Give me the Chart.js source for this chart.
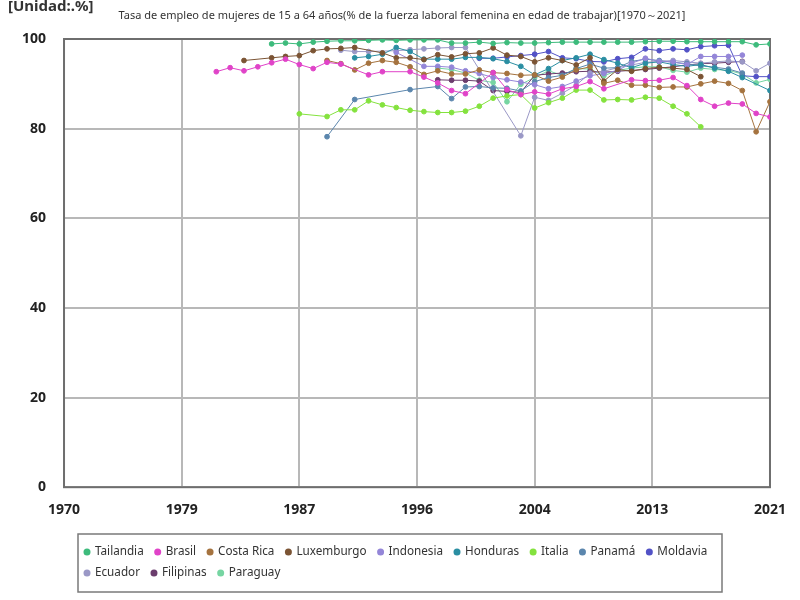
<!DOCTYPE html>
<html>
<head>
<meta charset="utf-8">
<script src="https://cdn.jsdelivr.net/npm/chart.js@4.4.1/dist/chart.umd.min.js"></script>
<style>
html,body{margin:0;padding:0;background:#fff;}
#wrap{width:800px;height:600px;position:relative;}
</style>
</head>
<body>
<div id="wrap"><canvas id="c" width="800" height="600"></canvas></div>
<script>
// ---- Data ----
const years = [1981,1982,1983,1984,1985,1986,1987,1988,1989,1990,
  1991,1992,1993,1994,1995,1996,1997,1998,1999,2000,
  2001,2002,2003,2004,2005,2006,2007,2008,2009,2010,
  2011,2012,2013,2014,2015,2016,2017,2018,2019,2020,2021];

const seriesNames = ["Tailandia","Brasil","Costa Rica","Luxemburgo","Indonesia","Honduras","Italia","Panamá","Moldavia","Ecuador","Filipinas","Paraguay"];

const tailandia = [null,null,null,null,98.9,99.1,98.9,99.3,99.5,99.6,
  99.6,99.7,99.8,99.7,99.8,99.8,99.8,99.1,99.1,99.3,
  99.0,99.2,99.1,99.1,99.2,99.3,99.3,99.3,99.3,99.3,
  99.3,99.4,99.5,99.5,99.4,99.4,99.4,99.4,99.4,98.7,98.9];
const brasil = [92.7,93.6,92.9,93.8,94.7,95.5,94.3,93.4,94.8,94.4,
  null,92.0,92.7,null,92.7,91.5,90.2,88.5,87.8,null,
  92.5,88.7,87.6,88.2,87.7,88.9,89.4,90.5,88.9,null,
  90.9,90.7,90.8,91.4,89.6,86.5,85.0,85.7,85.5,83.4,82.6];
const costaRica = [null,null,null,null,null,null,null,null,95.2,94.5,
  93.1,94.6,95.2,94.8,93.8,92.1,92.9,92.2,92.2,93.1,
  92.5,92.3,91.9,92.0,90.6,91.5,93.1,93.8,90.1,90.8,
  89.7,89.7,89.2,89.3,89.3,90.0,90.6,90.1,88.5,79.3,86.0];
const luxemburgo = [null,null,95.2,null,95.8,96.1,96.3,97.4,97.8,97.9,
  98.1,null,96.9,95.8,95.8,95.4,96.5,96.0,96.7,96.9,
  98.0,96.4,96.1,94.9,95.8,95.2,94.2,95.8,90.6,93.2,
  92.8,93.4,93.7,93.5,93.2,91.6,null,null,null,null,null];
const indonesia = [null,null,null,null,null,null,null,null,null,null,
  null,null,null,97.0,null,93.9,93.9,93.7,92.9,92.3,
  91.4,90.9,90.4,89.8,88.9,89.4,90.6,91.8,92.3,93.0,
  94.6,95.7,95.0,94.9,94.3,96.1,96.1,96.1,96.4,null,null];
const honduras = [null,null,null,null,null,null,null,null,null,null,
  95.8,96.1,96.6,98.1,97.2,95.5,95.5,95.5,95.9,95.9,
  95.6,95.0,93.9,92.0,93.4,95.2,95.8,96.6,95.4,94.6,
  93.6,94.6,94.9,94.3,93.9,94.3,93.5,92.8,91.4,null,88.5];
const italia = [null,null,null,null,null,null,83.3,null,82.7,84.2,
  84.2,86.2,85.3,84.7,84.1,83.8,83.6,83.6,83.9,85.0,
  86.8,87.3,87.6,84.6,85.8,86.8,88.6,88.6,86.4,86.5,
  86.4,87.0,86.8,85.0,83.3,80.4,null,null,null,null,null];
const panama = [null,null,null,null,null,null,null,null,78.2,null,
  86.5,null,null,null,88.7,null,89.4,86.7,89.3,89.4,
  89.1,89.0,88.4,90.5,91.4,91.9,93.4,94.4,93.5,93.6,
  95.0,95.5,95.2,94.8,94.5,94.0,93.7,93.3,92.4,null,null];
const moldavia = [null,null,null,null,null,null,null,null,null,null,
  null,null,null,null,null,null,null,null,null,95.7,
  95.7,96.0,96.3,96.6,97.2,95.8,95.6,95.0,94.9,95.6,
  95.9,97.8,97.4,97.8,97.6,98.3,98.5,98.6,91.8,91.6,91.6];
const ecuador = [null,null,null,null,null,null,null,null,null,97.5,
  97.2,97.2,null,97.4,97.6,97.8,98.0,98.1,98.1,null,
  null,null,78.4,87.0,86.3,87.9,89.7,92.4,92.8,93.6,
  94.2,94.8,95.0,95.2,94.9,94.6,94.9,95.1,94.9,92.9,94.6];
const filipinas = [null,null,null,null,null,null,null,null,null,null,
  null,null,null,null,null,null,90.9,90.8,90.8,90.6,
  88.5,88.3,88.1,91.9,92.2,92.4,92.7,92.8,92.6,92.8,
  93.0,93.2,93.5,93.8,94.2,94.5,94.6,94.8,95.0,null,null];
const paraguay = [null,null,null,null,null,null,null,null,null,null,
  null,null,null,null,null,null,93.5,93.2,92.4,90.8,
  90.3,86.0,89.9,91.4,92.9,91.9,93.4,93.3,91.8,93.0,
  93.5,93.8,93.8,93.0,92.6,93.5,93.2,93.0,92.2,90.2,91.0];

const seriesValues = [tailandia,brasil,costaRica,luxemburgo,indonesia,honduras,italia,panama,moldavia,ecuador,filipinas,paraguay];
const seriesColors = ["#3dbb7c","#e043c8","#a5733f","#7b5434","#9486d8","#2a8ea2","#84e23e","#5b86ad","#5252c6","#9a98c6","#6b3d6d","#76d5a2"];

const xMin = 1970, xMax = 2021, xStep = 8.5;
const yMin = 0, yMax = 100, yStep = 20;
const unitLabel = "[Unidad:.%]";
const titleText = "Tasa de empleo de mujeres de 15 a 64 años(% de la fuerza laboral femenina en edad de trabajar)[1970～2021]";

// ---- Build datasets ----
const datasets = seriesNames.map((name, i) => {
  const pts = [];
  years.forEach((yr, k) => {
    const v = seriesValues[i][k];
    if (v !== null && v !== undefined) pts.push({x: yr, y: v});
  });
  return {
    label: name,
    data: pts,
    borderColor: seriesColors[i],
    backgroundColor: seriesColors[i],
    pointBackgroundColor: seriesColors[i],
    pointBorderColor: seriesColors[i],
    borderWidth: 1,
    pointRadius: 2.4,
    pointHoverRadius: 3,
    tension: 0,
    fill: false
  };
});

const FONT = '"Noto Sans", "DejaVu Sans", sans-serif';

const framePlugin = {
  id: 'frame',
  beforeDatasetsDraw(chart) {
    const {ctx, chartArea: a} = chart;
    ctx.save();
    ctx.strokeStyle = '#6e6e6e';
    ctx.lineWidth = 2;
    ctx.strokeRect(a.left, a.top, a.right - a.left, a.bottom - a.top);
    ctx.restore();
  },
  afterDraw(chart) {
    const ctx = chart.ctx;
    ctx.save();
    // unit label
    ctx.font = 'bold 15px ' + FONT;
    ctx.fillStyle = '#333';
    ctx.textBaseline = 'top';
    ctx.textAlign = 'left';
    ctx.fillText(unitLabel, 8, -1);
    // title
    ctx.font = '11px ' + FONT;
    ctx.textAlign = 'center';
    ctx.textBaseline = 'middle';
    ctx.fillText(titleText, 402, 16);
    // legend box
    ctx.textAlign = 'left';
    const boxL = 78, boxR = 722, boxT = 534, boxB = 592;
    ctx.strokeStyle = '#7a7a7a';
    ctx.lineWidth = 1.5;
    ctx.strokeRect(boxL, boxT, boxR - boxL, boxB - boxT);
    ctx.font = '11.7px ' + FONT;
    let x = 87, y = 552;
    chart.data.datasets.forEach(d => {
      const w = ctx.measureText(d.label).width;
      if (x + 10 + w > boxR - 6) { x = 87; y += 21; }
      ctx.fillStyle = d.borderColor;
      ctx.beginPath();
      ctx.arc(x, y, 3.5, 0, Math.PI * 2);
      ctx.fill();
      ctx.fillStyle = '#333';
      ctx.fillText(d.label, x + 8, y);
      x += 8 + w + 14;
    });
    ctx.restore();
  }
};

new Chart(document.getElementById('c'), {
  type: 'line',
  data: { datasets },
  plugins: [framePlugin],
  options: {
    responsive: false,
    animation: false,
    devicePixelRatio: 1,
    layout: { padding: { left: 4, right: 29, top: 39, bottom: 68 } },
    plugins: {
      legend: { display: false },
      tooltip: { enabled: false },
      title: { display: false }
    },
    scales: {
      x: {
        type: 'linear',
        min: xMin, max: xMax,
        ticks: {
          stepSize: xStep,
          color: '#222',
          font: { family: FONT, size: 14, weight: 'bold' },
          padding: 14,
          maxRotation: 0,
          callback: v => String(Math.round(v))
        },
        grid: { color: '#b8b8b8', lineWidth: 2, drawTicks: false },
        border: { display: false }
      },
      y: {
        min: yMin, max: yMax,
        ticks: {
          stepSize: yStep,
          color: '#222',
          font: { family: FONT, size: 14, weight: 'bold' },
          padding: 18
        },
        grid: { color: '#b8b8b8', lineWidth: 2, drawTicks: false },
        border: { display: false }
      }
    }
  }
});
</script>
</body>
</html>
